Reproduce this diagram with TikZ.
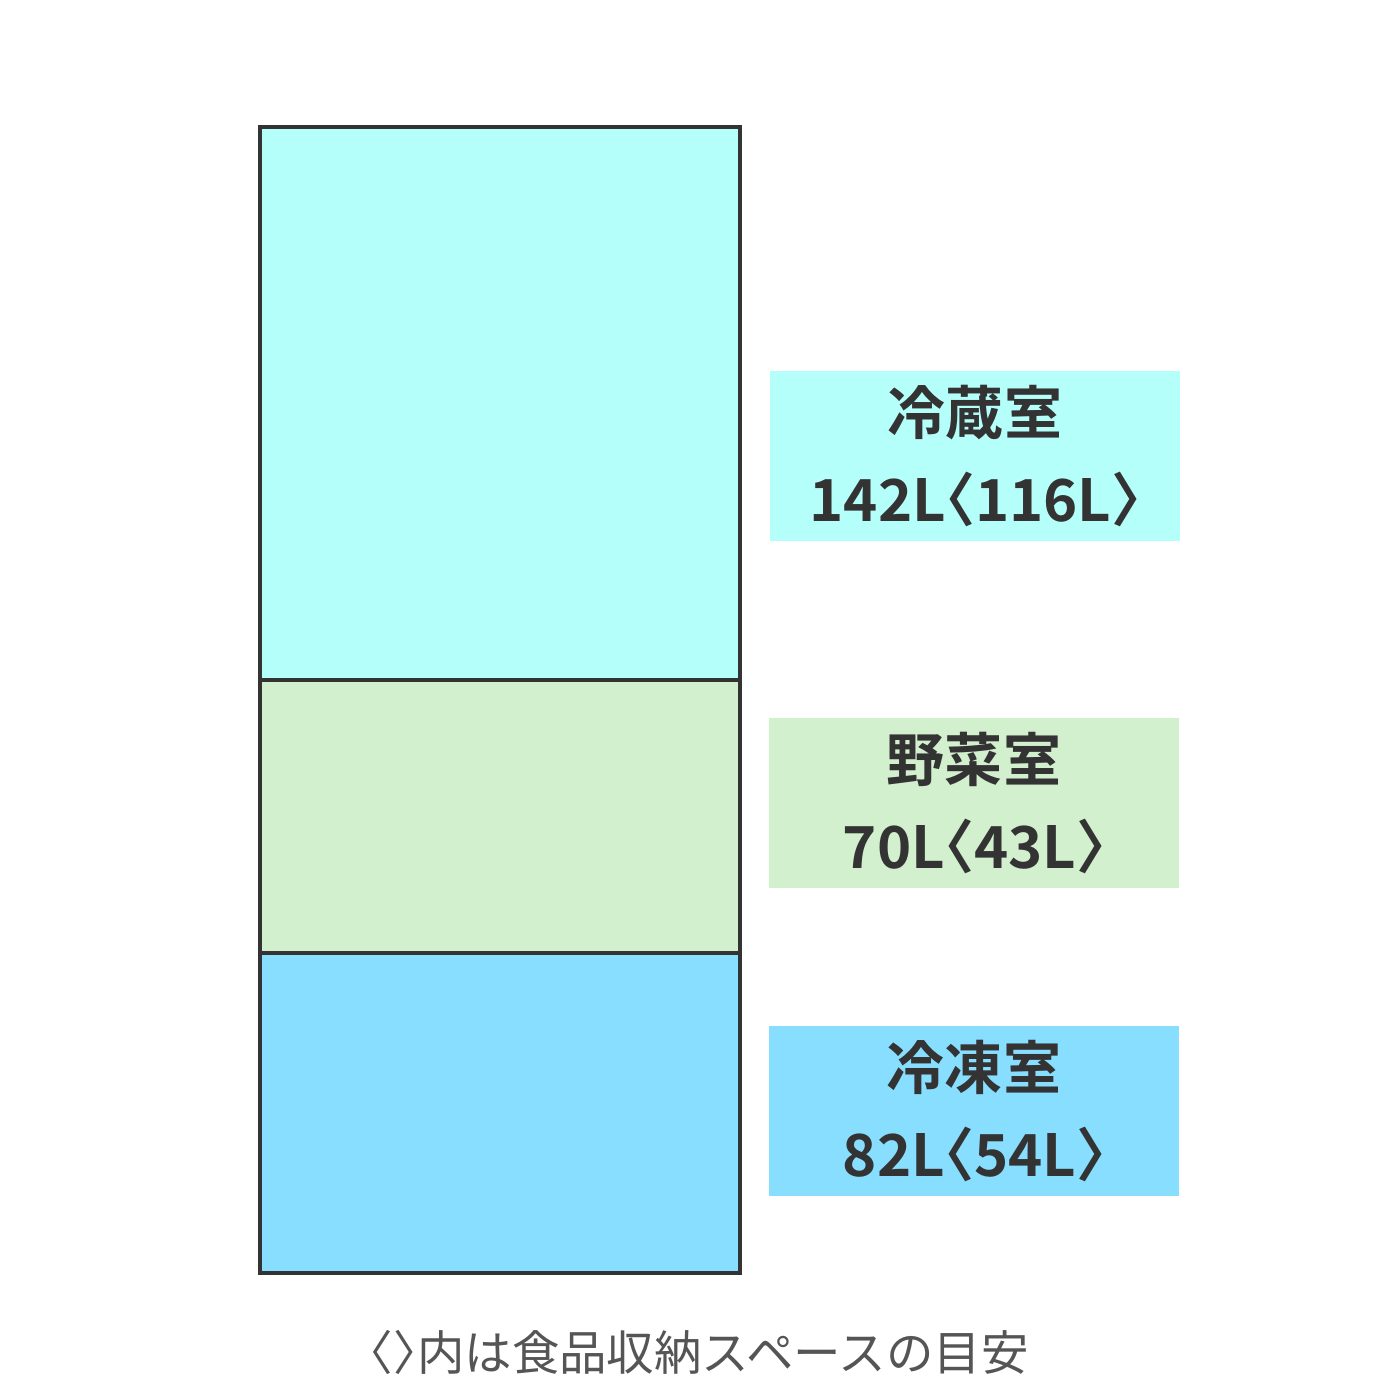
\documentclass[tikz,border=0pt]{standalone}
\usepackage{fontspec}
\newfontfamily\jpbold[RawFeature=+halt]{Noto Sans CJK JP Bold}
\newfontfamily\jpreg{Noto Sans CJK JP}
\newfontfamily\jpregh[RawFeature=+halt]{Noto Sans CJK JP}
\usetikzlibrary{positioning}
\definecolor{fridgeC}{HTML}{B5FFFB}
\definecolor{vegC}{HTML}{D2F0CE}
\definecolor{freezeC}{HTML}{87DEFF}
\definecolor{lineC}{HTML}{333333}
\definecolor{noteC}{HTML}{555555}
\begin{document}
\begin{tikzpicture}[x=0.01cm, y=-0.01cm,
    room/.style={draw=lineC, line width=1.2pt},
    label/.style={rectangle, minimum width=4.1cm, minimum height=1.69cm, align=center, text=lineC, font=\jpbold\fontsize{16.5}{24.5}\selectfont}
]
    \useasboundingbox (0,0) rectangle (1400,1400);
    \fill[white] (0,0) rectangle (1400,1400);
    % compartments
    \filldraw[room, fill=fridgeC] (260,127) rectangle (740,680);
    \filldraw[room, fill=vegC] (260,680) rectangle (740,953);
    \filldraw[room, fill=freezeC] (260,953) rectangle (740,1273);

    \node[label, fill=fridgeC] (fridge) at (975,456) {冷蔵室\\142L〈116L〉};
    \node[label, fill=vegC] (veg) at (974,803) {野菜室\\70L〈43L〉};
    \node[label, fill=freezeC] (freeze) at (974,1111) {冷凍室\\82L〈54L〉};

    \node[text=noteC, font=\jpreg\fontsize{13.5}{15}\selectfont] (note) at (699,1352) {{\jpregh 〈〉}内は食品収納スペースの目安};
\end{tikzpicture}
\end{document}
